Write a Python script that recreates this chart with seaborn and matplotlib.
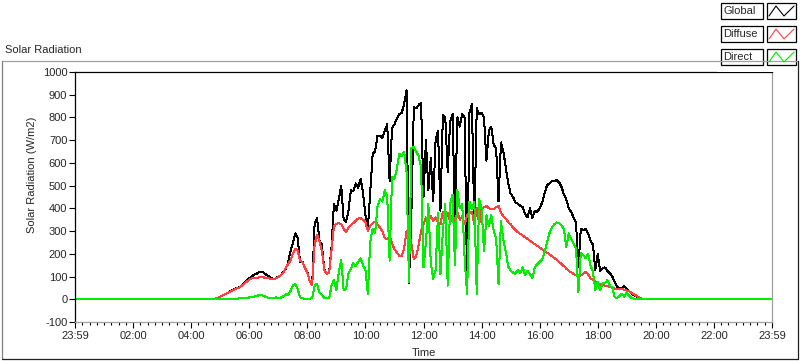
import numpy as np
import pandas as pd
import matplotlib
matplotlib.use("Agg")
import matplotlib.pyplot as plt
import seaborn as sns
from matplotlib.patches import Rectangle
from matplotlib.lines import Line2D

# ---------------- data ----------------
start_min = 280      # first sample 04:40
step_min = 5         # sampling interval (minutes)
day_min = 1440

global_vals = [
    0, 0, 3, 7, 12, 17, 22, 28, 34, 40,
    46, 50, 53, 62, 72, 82, 92, 100, 108, 112,
    118, 120, 117, 108, 102, 95, 88, 92, 100, 106,
    118, 132, 159, 210, 245, 290, 270, 165, 165, 140,
    120, 80, 65, 330, 358, 260, 240, 130, 115, 118,
    230, 420, 390, 440, 500, 350, 340, 390, 480, 476,
    510, 490, 530, 470, 370, 310, 476, 640, 650, 720,
    720, 710, 740, 770, 520, 753, 770, 795, 815, 820,
    860, 920, 72, 380, 845, 840, 855, 865, 450, 700,
    480, 620, 430, 700, 740, 390, 810, 800, 560, 780,
    815, 360, 800, 760, 815, 800, 70, 820, 860, 330,
    840, 815, 820, 800, 610, 740, 760, 680, 665, 430,
    690, 650, 580, 510, 465, 450, 425, 420, 412, 405,
    375, 360, 400, 358, 388, 385, 400, 425, 465, 500,
    510, 520, 520, 524, 515, 495, 462, 440, 400, 385,
    360, 340, 140, 310, 305, 308, 290, 258, 240, 130,
    200, 125, 137, 140, 125, 115, 100, 75, 55, 45,
    50, 57, 45, 36, 25, 18, 12, 5, 2, 0,
    0, 0, 0]

diffuse_vals = [
    0, 0, 3, 7, 12, 17, 22, 28, 33, 39,
    44, 48, 52, 60, 70, 78, 86, 92, 94, 95,
    96, 97, 96, 94, 92, 90, 87, 92, 98, 105,
    115, 135, 155, 170, 200, 222, 215, 170, 162, 138,
    118, 78, 62, 240, 284, 255, 215, 128, 113, 116,
    220, 320, 332, 335, 330, 310, 295, 315, 328, 335,
    345, 355, 357, 350, 340, 300, 324, 335, 342, 330,
    315, 300, 270, 264, 280, 245, 220, 205, 192, 190,
    225, 300, 290, 245, 175, 190, 240, 300, 330, 360,
    350, 366, 345, 360, 340, 330, 385, 345, 380, 340,
    370, 345, 385, 350, 365, 330, 370, 380, 385, 330,
    400, 330, 395, 405, 410, 400, 398, 396, 405, 410,
    380, 365, 355, 340, 330, 315, 305, 295, 288, 280,
    272, 266, 258, 250, 242, 235, 228, 220, 212, 205,
    198, 190, 182, 174, 165, 155, 146, 135, 125, 118,
    112, 105, 100, 105, 112, 120, 110, 92, 85, 78,
    70, 65, 63, 60, 57, 55, 50, 47, 46, 45,
    44, 42, 38, 34, 28, 22, 15, 8, 4, 1,
    0, 0, 0]

direct_vals = [
    0, 0, 1, 2, 2, 3, 3, 3, 3, 3,
    3, 3, 4, 4, 5, 6, 8, 10, 12, 14,
    18, 18, 15, 9, 7, 6, 5, 8, 6, 7,
    12, 22, 20, 35, 60, 66, 45, 8, 4, 3,
    3, 3, 4, 60, 68, 30, 20, 5, 4, 5,
    60, 85, 40, 120, 175, 40, 45, 115, 135, 160,
    145, 165, 180, 150, 130, 25, 255, 310, 290, 410,
    440, 430, 480, 450, 170, 540, 530, 575, 640, 630,
    650, 560, 75, 665, 670, 650, 630, 580, 140, 250,
    420, 160, 90, 130, 380, 110, 300, 420, 60, 420,
    460, 150, 480, 400, 420, 180, 22, 430, 395, 430,
    25, 440, 400, 210, 370, 320, 370, 300, 270, 66,
    345, 260, 210, 145, 125, 118, 112, 130, 115, 140,
    105, 125, 110, 93, 140, 155, 165, 175, 205, 250,
    290, 315, 330, 338, 335, 325, 310, 230, 290, 265,
    245, 225, 30, 205, 195, 180, 200, 150, 120, 40,
    75, 40, 70, 70, 85, 60, 50, 10, 5, 15,
    25, 10, 30, 15, 4, 3, 2, 2, 1, 0,
    0, 0, 0]

series_names = ["Global", "Diffuse", "Direct"]
series_colors = ["#000000", "#ff4040", "#00ee00"]
x_tick_pos = list(range(0, 1441, 120))
x_tick_labels = ["23:59", "02:00", "04:00", "06:00", "08:00", "10:00", "12:00",
                 "14:00", "16:00", "18:00", "20:00", "22:00", "23:59"]
y_ticks = list(range(-100, 1001, 100))

# ---------------- build table ----------------
n = len(global_vals)
t = np.concatenate([[0], start_min + step_min * np.arange(n), [day_min]])
frames = []
for name, vals in zip(series_names, [global_vals, diffuse_vals, direct_vals]):
    v = np.concatenate([[0], np.asarray(vals, float), [0]])
    frames.append(pd.DataFrame({"t": t, "v": v, "series": name}))
df = pd.concat(frames, ignore_index=True)

# ---------------- figure ----------------
sns.set_style("white")
plt.rcParams['font.family'] = ['Liberation Sans', 'DejaVu Sans']
FS = 8

W, H = 800, 361
fig = plt.figure(figsize=(W / 100, H / 100), dpi=100)
fig.patch.set_facecolor("white")


def fx(px):
    return px / W


def fy(py):
    return 1 - py / H


ax_l, ax_r, ax_t, ax_b = 75, 772, 72, 322
ax = fig.add_axes([fx(ax_l), fy(ax_b), fx(ax_r) - fx(ax_l), fy(ax_t) - fy(ax_b)])
ax.set_facecolor("white")

sns.lineplot(data=df, x="t", y="v", hue="series", hue_order=series_names,
             palette=dict(zip(series_names, series_colors)), ax=ax,
             legend=False, linewidth=0.72, estimator=None, sort=False,
             antialiased=False)

ax.set_xlim(0, day_min)
ax.set_ylim(-100, 1000)
ax.set_xticks(x_tick_pos)
ax.set_xticklabels(x_tick_labels, fontsize=FS)
ax.set_xticks(list(range(0, 1441, 15)), minor=True)
ax.set_yticks(y_ticks)
ax.set_yticklabels([str(v) for v in y_ticks], fontsize=FS)

ax.tick_params(axis="x", which="major", direction="out", length=4.5, width=0.8,
               color="black", pad=2, bottom=True)
ax.tick_params(axis="x", which="minor", direction="out", length=2.5, width=0.8,
               color="black", bottom=True)
ax.tick_params(axis="y", which="major", direction="out", length=4, width=0.8,
               color="black", pad=1.5, left=True)

for side in ["left", "top"]:
    ax.spines[side].set_color("black")
    ax.spines[side].set_linewidth(0.9)
for side in ["right", "bottom"]:
    ax.spines[side].set_color("#a0a0a0")
    ax.spines[side].set_linewidth(0.9)
for side in ax.spines:
    ax.spines[side].set_visible(True)

ax.set_xlabel("Time", fontsize=FS)
ax.xaxis.set_label_coords(0.5, -(353 - ax_b) / (ax_b - ax_t))
ax.xaxis.label.set_va("center")
ax.set_ylabel("Solar Radiation (W/m2)", fontsize=FS)
ax.yaxis.set_label_coords(-(ax_l - 32) / (ax_r - ax_l), (ax_b - 175) / (ax_b - ax_t))
ax.yaxis.label.set_va("center")

# ---------------- panel frame & title ----------------
px_l, px_r, px_t, px_b = 2, 798, 61, 359
fig.add_artist(Line2D([fx(px_l), fx(px_r)], [fy(px_t), fy(px_t)], color="#a0a0a0", lw=0.9))
fig.add_artist(Line2D([fx(px_l), fx(px_l)], [fy(px_t), fy(px_b)], color="#808080", lw=0.9))
fig.add_artist(Line2D([fx(px_l), fx(px_r)], [fy(px_b), fy(px_b)], color="#202020", lw=0.9))
fig.add_artist(Line2D([fx(px_r), fx(px_r)], [fy(px_t), fy(px_b)], color="#202020", lw=0.9))
fig.text(fx(5), fy(50), "Solar Radiation", fontsize=FS, ha="left", va="center")

# ---------------- legend (plot legend boxes) ----------------
fig.add_artist(Rectangle((fx(717), fy(72)), fx(800) - fx(717), fy(0) - fy(72),
                         transform=fig.transFigure, facecolor="white", edgecolor="none"))
row_tops = [3, 26, 49]
row_h = 16
for name, col, top in zip(series_names, series_colors, row_tops):
    fig.add_artist(Rectangle((fx(721), fy(top + row_h)), fx(763) - fx(721),
                             fy(top) - fy(top + row_h), transform=fig.transFigure,
                             facecolor="white", edgecolor="black", lw=0.9))
    fig.text(fx(723), fy(top + row_h / 2), name, fontsize=FS, ha="left", va="center")
    fig.add_artist(Rectangle((fx(767), fy(top + row_h)), fx(796) - fx(767),
                             fy(top) - fy(top + row_h), transform=fig.transFigure,
                             facecolor="white", edgecolor="black", lw=0.9))
    zx = [769, 776, 784, 794]
    zy = [top + 13, top + 3, top + 13, top + 3]
    fig.add_artist(Line2D([fx(v) for v in zx], [fy(v) for v in zy], color=col, lw=0.8))

fig.savefig("out.png", dpi=100, facecolor="white")
